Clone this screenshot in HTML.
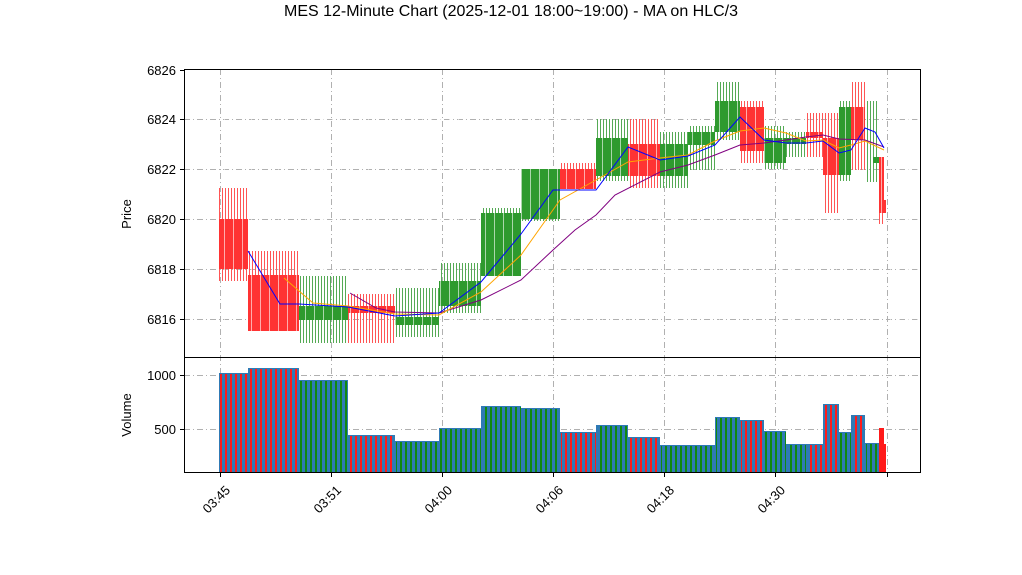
<!DOCTYPE html>
<html><head><meta charset="utf-8"><style>body{margin:0;background:#fff}svg{display:block;font-family:"Liberation Sans","DejaVu Sans",sans-serif}</style></head><body>
<svg width="1022" height="575" viewBox="0 0 1022 575">
<defs>
<pattern id="wr" width="3" height="10" patternUnits="userSpaceOnUse"><rect x="0" y="0" width="1" height="10" fill="#ff5555"/></pattern>
<pattern id="wg" width="3" height="10" patternUnits="userSpaceOnUse"><rect x="0" y="0" width="1" height="10" fill="#55aa55"/></pattern>
<pattern id="vr" width="5" height="10" patternUnits="userSpaceOnUse"><rect x="0" y="0" width="2" height="10" fill="#ff1a1a"/></pattern>
<pattern id="vg" width="5" height="10" patternUnits="userSpaceOnUse"><rect x="0" y="0" width="2" height="10" fill="#0f8a0f"/></pattern>
<pattern id="gap" width="9" height="10" patternUnits="userSpaceOnUse"><rect x="8" y="0" width="1" height="10" fill="#fff" fill-opacity="0.6"/></pattern>
</defs>
<text x="511" y="16" text-anchor="middle" font-size="16">MES 12-Minute Chart (2025-12-01 18:00~19:00) - MA on HLC/3</text>
<g stroke="#b0b0b0" stroke-width="1" stroke-dasharray="6,3,1,3" fill="none">
<path d="M184 119.5H920M184 169.5H920M184 219.5H920M184 269.5H920M184 319.5H920M184 375.5H920M184 429.5H920"/>
<path d="M220.5 69V472M331.5 69V472M442.5 69V472M553.5 69V472M664.5 69V472M775.5 69V472M887.5 69V472"/>
</g>
<g>
<rect x="219" y="188" width="29" height="93" fill="url(#wr)"/>
<rect x="248" y="251" width="51" height="80" fill="url(#wr)"/>
<rect x="299" y="276" width="49" height="67" fill="url(#wg)"/>
<rect x="348" y="294" width="47" height="49" fill="url(#wr)"/>
<rect x="395" y="288" width="44" height="49" fill="url(#wg)"/>
<rect x="439" y="263" width="42" height="50" fill="url(#wg)"/>
<rect x="481" y="208" width="40" height="68" fill="url(#wg)"/>
<rect x="521" y="169" width="39" height="52" fill="url(#wg)"/>
<rect x="560" y="163" width="36" height="26" fill="url(#wr)"/>
<rect x="596" y="119" width="32" height="62" fill="url(#wg)"/>
<rect x="628" y="119" width="32" height="69" fill="url(#wr)"/>
<rect x="660" y="132" width="28" height="56" fill="url(#wg)"/>
<rect x="688" y="126" width="27" height="44" fill="url(#wg)"/>
<rect x="715" y="82" width="25" height="58" fill="url(#wg)"/>
<rect x="740" y="101" width="24" height="62" fill="url(#wr)"/>
<rect x="764" y="126" width="22" height="43" fill="url(#wg)"/>
<rect x="786" y="132" width="20" height="25" fill="url(#wg)"/>
<rect x="806" y="113" width="17" height="44" fill="url(#wr)"/>
<rect x="823" y="113" width="16" height="100" fill="url(#wr)"/>
<rect x="839" y="101" width="12" height="80" fill="url(#wg)"/>
<rect x="851" y="82" width="14" height="88" fill="url(#wr)"/>
<rect x="865" y="101" width="14" height="81" fill="url(#wg)"/>
<rect x="879" y="157" width="6" height="67" fill="url(#wr)"/>
</g>
<g>
<rect x="219" y="219" width="29" height="50" fill="#ff3333"/>
<rect x="248" y="275" width="51" height="56" fill="#ff3333"/>
<rect x="299" y="306" width="49" height="14" fill="#2e9a2e"/>
<rect x="348" y="306" width="47" height="7" fill="#ff3333"/>
<rect x="395" y="317" width="44" height="8" fill="#2e9a2e"/>
<rect x="439" y="281" width="42" height="25" fill="#2e9a2e"/>
<rect x="481" y="213" width="40" height="63" fill="#2e9a2e"/>
<rect x="521" y="169" width="39" height="50" fill="#2e9a2e"/>
<rect x="560" y="169" width="36" height="20" fill="#ff3333"/>
<rect x="596" y="138" width="32" height="38" fill="#2e9a2e"/>
<rect x="628" y="144" width="32" height="32" fill="#ff3333"/>
<rect x="660" y="144" width="28" height="32" fill="#2e9a2e"/>
<rect x="688" y="132" width="27" height="13" fill="#2e9a2e"/>
<rect x="715" y="101" width="25" height="31" fill="#2e9a2e"/>
<rect x="740" y="107" width="24" height="44" fill="#ff3333"/>
<rect x="764" y="138" width="22" height="25" fill="#2e9a2e"/>
<rect x="786" y="138" width="20" height="6" fill="#2e9a2e"/>
<rect x="806" y="132" width="17" height="6" fill="#ff3333"/>
<rect x="823" y="138" width="16" height="37" fill="#ff3333"/>
<rect x="839" y="107" width="12" height="68" fill="#2e9a2e"/>
<rect x="851" y="107" width="14" height="33" fill="#ff3333"/>
<rect x="873" y="157" width="6" height="6" fill="#2e9a2e"/>
<rect x="879" y="157" width="5" height="56" fill="#ff3333"/>
<rect x="884" y="200" width="2" height="13" fill="#ff3333"/>
<rect x="219" y="100" width="700" height="240" fill="url(#gap)"/>
</g>
<polyline fill="none" stroke="#800080" stroke-width="1" points="350,293 376,308 395,312 439,313 481,300 521,280 553,250 575,230 596,215 615,195 660,172 688,165 715,155 740,145 764,143 786,140 806,137 823,135 839,139 865,140 884,147"/>
<polyline fill="none" stroke="#ffa500" stroke-width="1" points="284,278 313,303 348,306 395,314 439,315 481,292 521,255 560,200 596,180 628,162 660,158 688,155 715,141 740,131 764,128 786,133 806,141 823,140 839,148 851,145 865,141 884,150"/>
<polyline fill="none" stroke="#0000ff" stroke-width="1" points="248,251 280,304 299,304 348,307 395,316 439,313 481,282 521,234 553,190 596,190 628,147 660,160 688,156 715,145 740,117 764,140 786,143 806,143 823,141 839,153 851,150 865,128 875,132 884,148"/>
<g>
<rect x="219" y="373" width="29" height="99" fill="#2f7ab5"/><rect x="220" y="374" width="28" height="98" fill="url(#vr)"/>
<rect x="248" y="368" width="51" height="104" fill="#2f7ab5"/><rect x="249" y="369" width="50" height="103" fill="url(#vr)"/>
<rect x="299" y="380" width="49" height="92" fill="#2f7ab5"/><rect x="300" y="381" width="48" height="91" fill="url(#vg)"/>
<rect x="348" y="435" width="47" height="37" fill="#2f7ab5"/><rect x="349" y="436" width="46" height="36" fill="url(#vr)"/>
<rect x="395" y="441" width="44" height="31" fill="#2f7ab5"/><rect x="396" y="442" width="43" height="30" fill="url(#vg)"/>
<rect x="439" y="428" width="42" height="44" fill="#2f7ab5"/><rect x="440" y="429" width="41" height="43" fill="url(#vg)"/>
<rect x="481" y="406" width="40" height="66" fill="#2f7ab5"/><rect x="482" y="407" width="39" height="65" fill="url(#vg)"/>
<rect x="521" y="408" width="39" height="64" fill="#2f7ab5"/><rect x="522" y="409" width="38" height="63" fill="url(#vg)"/>
<rect x="560" y="432" width="36" height="40" fill="#2f7ab5"/><rect x="561" y="433" width="35" height="39" fill="url(#vr)"/>
<rect x="596" y="425" width="32" height="47" fill="#2f7ab5"/><rect x="597" y="426" width="31" height="46" fill="url(#vg)"/>
<rect x="628" y="437" width="32" height="35" fill="#2f7ab5"/><rect x="629" y="438" width="31" height="34" fill="url(#vr)"/>
<rect x="660" y="445" width="28" height="27" fill="#2f7ab5"/><rect x="661" y="446" width="27" height="26" fill="url(#vg)"/>
<rect x="688" y="445" width="27" height="27" fill="#2f7ab5"/><rect x="689" y="446" width="26" height="26" fill="url(#vg)"/>
<rect x="715" y="417" width="25" height="55" fill="#2f7ab5"/><rect x="716" y="418" width="24" height="54" fill="url(#vg)"/>
<rect x="740" y="420" width="24" height="52" fill="#2f7ab5"/><rect x="741" y="421" width="23" height="51" fill="url(#vr)"/>
<rect x="764" y="431" width="22" height="41" fill="#2f7ab5"/><rect x="765" y="432" width="21" height="40" fill="url(#vg)"/>
<rect x="786" y="444" width="20" height="28" fill="#2f7ab5"/><rect x="787" y="445" width="19" height="27" fill="url(#vg)"/>
<rect x="806" y="444" width="17" height="28" fill="#2f7ab5"/><rect x="807" y="445" width="16" height="27" fill="url(#vr)"/>
<rect x="823" y="404" width="16" height="68" fill="#2f7ab5"/><rect x="824" y="405" width="15" height="67" fill="url(#vr)"/>
<rect x="839" y="432" width="12" height="40" fill="#2f7ab5"/><rect x="840" y="433" width="11" height="39" fill="url(#vg)"/>
<rect x="851" y="415" width="14" height="57" fill="#2f7ab5"/><rect x="852" y="416" width="13" height="56" fill="url(#vr)"/>
<rect x="865" y="443" width="14" height="29" fill="#2f7ab5"/><rect x="866" y="444" width="13" height="28" fill="url(#vg)"/>
<rect x="879" y="428" width="5" height="44" fill="#ff1a1a"/>
<rect x="884" y="444" width="2" height="28" fill="#ff1a1a"/>
</g>
<rect x="184.5" y="69.5" width="736" height="288" fill="none" stroke="#000"/>
<rect x="184.5" y="357.5" width="736" height="115" fill="none" stroke="#000"/>
<g stroke="#000"><path d="M180 70.5H184M180 119.5H184M180 169.5H184M180 219.5H184M180 269.5H184M180 319.5H184M180 375.5H184M180 429.5H184"/>
<path d="M220.5 472V477M331.5 472V477M442.5 472V477M553.5 472V477M664.5 472V477M775.5 472V477M887.5 472V477"/></g>
<g font-size="13" text-anchor="end">
<text x="176" y="75">6826</text><text x="176" y="124">6824</text><text x="176" y="174">6822</text><text x="176" y="224">6820</text><text x="176" y="274">6818</text><text x="176" y="324">6816</text>
<text x="176" y="380">1000</text><text x="176" y="434">500</text>
</g>
<g font-size="13" text-anchor="end">
<text transform="translate(231,491) rotate(-45)">03:45</text>
<text transform="translate(342,491) rotate(-45)">03:51</text>
<text transform="translate(453,491) rotate(-45)">04:00</text>
<text transform="translate(564,491) rotate(-45)">04:06</text>
<text transform="translate(675,491) rotate(-45)">04:18</text>
<text transform="translate(786,491) rotate(-45)">04:30</text>
</g>
<text transform="translate(131,214) rotate(-90)" font-size="13" text-anchor="middle">Price</text>
<text transform="translate(131,415) rotate(-90)" font-size="13" text-anchor="middle">Volume</text>
</svg>
</body></html>
